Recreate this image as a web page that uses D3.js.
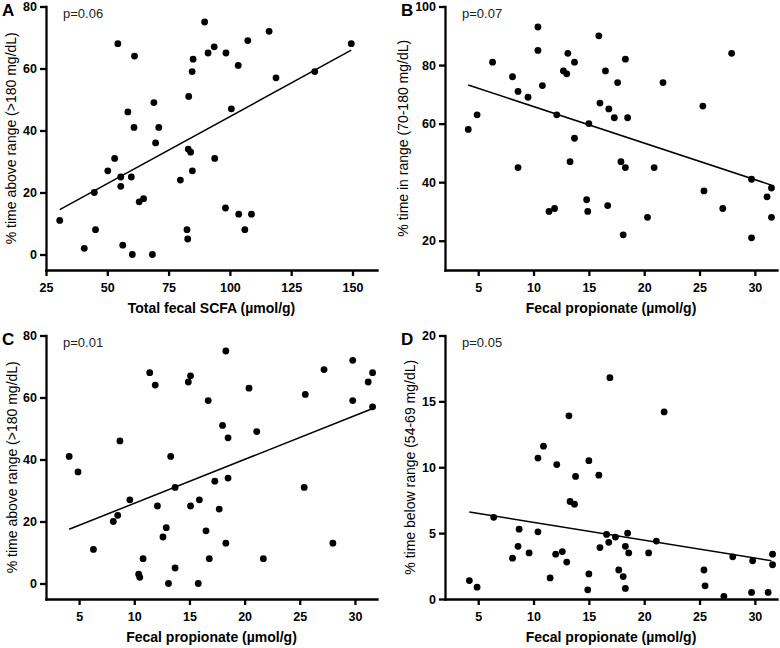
<!DOCTYPE html>
<html><head><meta charset="utf-8">
<script src="https://cdn.jsdelivr.net/npm/d3@7"></script>
<style>
body{margin:0;background:#fff}
svg{display:block}
text{font-family:"Liberation Sans",Arial,Helvetica,sans-serif;fill:#000}
</style>
</head><body>
<svg id="chart" width="780" height="648"></svg>
<script>
// ---- Panel A: total fecal SCFA vs % time above range ----
const scfaA = [30.6,40.6,44.7,45.2,50.2,53,55.5,55.5,56.3,59.8,60.2,63,64.8,68.4,79.8,82.5,82.8,84.7,54.3,61.1,58.4,60.9,69,71,69.7,83.2,85,84.6,83,84,89.7,116,107.3,93.6,91.1,98.4,103.4,149.5,134.6,118.8,100.6,93.8,98.2,103.6,108.8,106.1];
const tarA  = [11,2,20,8,27,31,25,22,3,25,0,17,18,0,24,8,5,27,68,64,46,41,49,41,36,51,63,59,34,33,75,72,69,67,65,65,61,68,59,57,47,31,15,13,13,8];
// ---- Panel B: fecal propionate vs % time in range ----
const propB = [4.1,4.9,6.3,8.1,8.6,9.5,8.6,10.4,10.4,10.8,12.1,13.1,13.7,12.7,13,13.7,13.3,15,15.9,18.3,16.5,17.6,21.7,27.9,16,16.8,17.3,18.5,25.3,17.9,18.3,20.9,11.4,11.9,14.8,14.9,16.7,18.1,20.3,25.4,27.1,29.7,29.7,31.5,31.1,31.5];
const tirB  = [58,63,81,76,71,69,45,93,85,73,63,84,81,78,77,55,47,60,90,82,78,74,74,84,67,65,62,62,66,47,45,45,30,31,34,30,32,22,28,37,31,41,21,38,35,28];
// ---- Panel C: fecal propionate vs % time above range ----
const propC = [4.1,4.9,6.3,8.1,8.5,8.7,9.6,10.4,10.5,10.8,11.4,11.9,12.1,12.6,12.9,13.1,13.3,13.7,13.7,14.9,15.1,15.1,15.9,15.8,18.3,16.7,20.4,18,18.5,21.1,17.3,18.5,17.7,16.5,18.3,16.8,21.7,25.4,25.5,27.2,29.8,29.8,31.2,31.6,31.6,28];
const tarC  = [41,36,11,20,22,46,27,3,2,8,68,64,25,15,18,0,41,31,5,65,67,25,27,0,75,59,63,51,47,49,33,34,24,17,13,8,8,31,61,69,72,59,65,68,57,13];
// ---- Panel D: fecal propionate vs % time below range ----
const propD = [4.2,4.9,6.4,8.1,8.6,8.7,9.6,10.4,10.9,10.4,11.5,12.1,12,12.6,13,13.2,13.3,13.7,13.8,15,15,14.9,16.9,21.8,15.9,16.6,16.8,16,17.4,18.5,18.3,18.6,17.7,18.1,18.3,20.4,21.1,25.4,25.5,28,27.2,29.8,29.7,31.6,31.6,31.2];
const tbrD  = [1.4,0.9,6.2,3.1,4.0,5.3,3.5,10.7,11.6,5.1,1.6,10.2,3.4,3.6,2.8,13.9,7.4,7.2,9.3,10.5,1.9,0.7,16.8,14.2,9.4,4.9,4.3,3.9,4.7,5.0,4.0,3.5,2.2,1.7,0.8,3.5,4.4,2.2,1.0,3.2,0.2,2.9,0.5,3.4,2.6,0.5];

// fitted regression lines [x0, y0, x1, y1] (as drawn)
const fitA = [30.6,14.5,149.5,65.9];
const fitB = [4.1,73.2,31.5,39.0];
const fitC = [4.1,17.5,31.5,56.3];
const fitD = [4.2,6.6,31.5,2.9];

// tick values
const ticksScfa = [25,50,75,100,125,150];
const ticksProp = [5,10,15,20,25,30];
const ticksTar  = [0,20,40,60,80];
const ticksTir  = [20,40,60,80,100];
const ticksTbr  = [0,5,10,15,20];

// labels
const letters = ["A","B","C","D"];
const pValues = ["p=0.06","p=0.07","p=0.01","p=0.05"];
const xTitles = ["Total fecal SCFA (µmol/g)","Fecal propionate (µmol/g)","Fecal propionate (µmol/g)","Fecal propionate (µmol/g)"];
const yTitles = ["% time above range (>180 mg/dL)","% time in range (70-180 mg/dL)","% time above range (>180 mg/dL)","% time below range (54-69 mg/dL)"];

const panels = [
  {xs:scfaA, ys:tarA, xDom:[25,160], yDom:[-5,80], xt:ticksScfa, yt:ticksTar, fit:fitA, x0:46,  x1:377, yT:6.5, yB:270, ytx:11},
  {xs:propB, ys:tirB, xDom:[2,32],   yDom:[10,100],xt:ticksProp, yt:ticksTir, fit:fitB, x0:445, x1:777, yT:6.5, yB:270, ytx:403},
  {xs:propC, ys:tarC, xDom:[2,32],   yDom:[-5,80], xt:ticksProp, yt:ticksTar, fit:fitC, x0:46,  x1:377, yT:335.5, yB:599, ytx:12},
  {xs:propD, ys:tbrD, xDom:[2,32],   yDom:[0,20],  xt:ticksProp, yt:ticksTbr, fit:fitD, x0:445, x1:777, yT:335.5, yB:599, ytx:410}
];

const svg = d3.select("#chart");
svg.append("rect").attr("width",780).attr("height",648).attr("fill","#fff");

panels.forEach((p,i)=>{
  const x = d3.scaleLinear().domain(p.xDom).range([p.x0,p.x1]);
  const y = d3.scaleLinear().domain(p.yDom).range([p.yB,p.yT]);
  const g = svg.append("g");

  // axes
  const xAxis = d3.axisBottom(x).tickValues(p.xt).tickSize(6).tickSizeOuter(0).tickPadding(7).tickFormat(d3.format("d"));
  const yAxis = d3.axisLeft(y).tickValues(p.yt).tickSize(6).tickSizeOuter(0).tickPadding(3).tickFormat(d3.format("d"));
  const gx = g.append("g").attr("transform",`translate(0,${p.yB})`).call(xAxis);
  const gy = g.append("g").attr("transform",`translate(${p.x0},0)`).call(yAxis);
  [gx,gy].forEach(a=>{
    a.select(".domain").attr("stroke","#000").attr("stroke-width",2.3).attr("stroke-linecap","square");
    a.selectAll(".tick line").attr("stroke","#000").attr("stroke-width",2.3);
    a.selectAll(".tick text").attr("font-size","12.5px").attr("font-weight","bold")
      .attr("font-family","'Liberation Sans',Arial,sans-serif").attr("fill","#000");
  });

  // regression line
  g.append("line")
    .attr("x1",x(p.fit[0])).attr("y1",y(p.fit[1]))
    .attr("x2",x(p.fit[2])).attr("y2",y(p.fit[3]))
    .attr("stroke","#000").attr("stroke-width",1.5);

  // points
  g.selectAll("circle.pt").data(p.xs.map((v,k)=>[v,p.ys[k]])).enter()
    .append("circle").attr("class","pt")
    .attr("cx",d=>x(d[0])).attr("cy",d=>y(d[1])).attr("r",3.4).attr("fill","#000");

  // panel letter
  g.append("text").attr("x",p.x0-44).attr("y",p.yT+9.5)
    .attr("font-size","17px").attr("font-weight","bold").text(letters[i]);

  // p value
  g.append("text").attr("x",p.x0+17).attr("y",p.yT+11.5)
    .attr("font-size","13px").attr("fill","#222").style("fill","#222").text(pValues[i]);

  // x title
  g.append("text").attr("x",(p.x0+p.x1)/2).attr("y",p.yB+43)
    .attr("text-anchor","middle").attr("font-size","14px").attr("font-weight","bold").text(xTitles[i]);

  // y title
  const cy = (p.yT+p.yB)/2;
  g.append("text").attr("transform",`translate(${p.ytx+5},${cy}) rotate(-90)`)
    .attr("text-anchor","middle").attr("font-size","14px").text(yTitles[i]);
});
</script>
</body></html>
